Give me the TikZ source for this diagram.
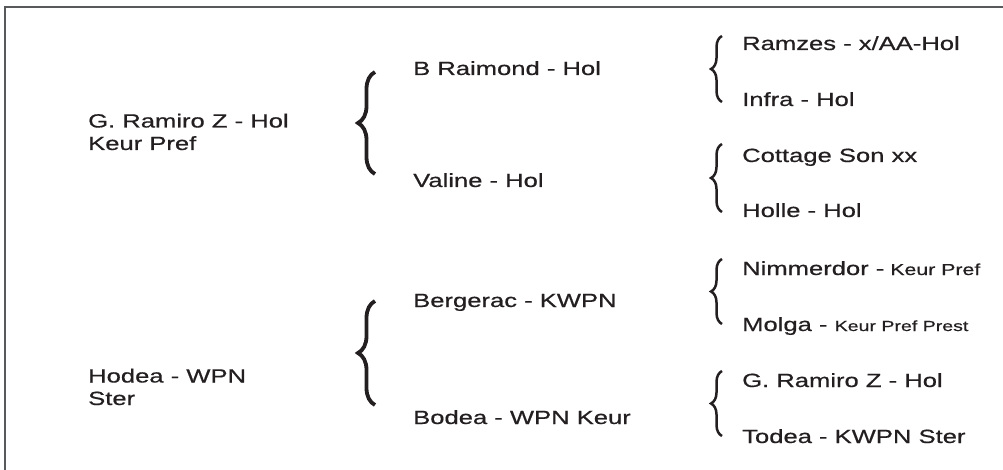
\documentclass[tikz,border=0pt]{standalone}
\usepackage{fontspec}
\setmainfont{Liberation Sans}[FakeStretch=1.34, FakeBold=0.6]
\usetikzlibrary{decorations.pathreplacing}
\definecolor{ink}{HTML}{231F20}
\definecolor{framegray}{HTML}{58595B}
\newcommand{\predsmall}[1]{{\fontsize{15.9}{18}\selectfont #1}}
\newcommand{\predtiny}[1]{{\fontsize{14.6}{17}\selectfont #1}}

\begin{document}
\begin{tikzpicture}[x=1pt, y=-1pt,
            horse/.style = {anchor=base west, inner sep=0pt, text=ink, align=left,
                            font=\fontsize{19.1}{22.5}\selectfont},
            bigBrace/.style = {draw=ink, line width=3.8pt, decorate,
                               decoration={brace, amplitude=17pt}},
            smallBrace/.style = {draw=ink, line width=2.5pt, decorate,
                                 decoration={brace, amplitude=11pt}}]
            \useasboundingbox (0,0) rectangle (1003,470);
            \clip (0,0) rectangle (1003,470);
            \draw[framegray, line width=1.4pt] (5,7) rectangle (1030,500);

            \node[horse] (sire) at (88,150) {G. Ramiro Z - Hol\\Keur Pref};
            \node[horse] (dam) at (88,405) {Hodea - WPN\\Ster};

            \node[horse] (ss) at (413,75) {B Raimond - Hol};
            \node[horse] (sd) at (413,187) {Valine - Hol};
            \node[horse] (ds) at (413,307) {Bergerac - KWPN};
            \node[horse] (dd) at (413,424) {Bodea - WPN Keur};

            \node[horse] (sss) at (742,50) {Ramzes - x/AA-Hol};
            \node[horse] (ssd) at (742,106) {Infra - Hol};
            \node[horse] (sds) at (742,162) {Cottage Son xx};
            \node[horse] (sdd) at (742,217) {Holle - Hol};
            \node[horse] (dss) at (742,275) {Nimmerdor -\predsmall{ Keur Pref}};
            \node[horse] (dsd) at (742,331) {Molga - \predtiny{Keur Pref Prest}};
            \node[horse] (dds) at (742,387) {G. Ramiro Z - Hol};
            \node[horse] (ddd) at (742,443) {Todea - KWPN Ster};

            \coordinate (sireTop) at (375,72);
            \coordinate (sireBot) at (375,174);
            \coordinate (damTop) at (375,301);
            \coordinate (damBot) at (375,405);
            \draw[bigBrace] (sireBot) -- (sireTop);
            \draw[bigBrace] (damBot) -- (damTop);

            \coordinate (ssTop) at (722,36);
            \coordinate (ssBot) at (722,102);
            \coordinate (sdTop) at (722,144);
            \coordinate (sdBot) at (722,212);
            \coordinate (dsTop) at (722,259);
            \coordinate (dsBot) at (722,324);
            \coordinate (ddTop) at (722,371);
            \coordinate (ddBot) at (722,436);
            \draw[smallBrace] (ssBot) -- (ssTop);
            \draw[smallBrace] (sdBot) -- (sdTop);
            \draw[smallBrace] (dsBot) -- (dsTop);
            \draw[smallBrace] (ddBot) -- (ddTop);
        \end{tikzpicture}
\end{document}
